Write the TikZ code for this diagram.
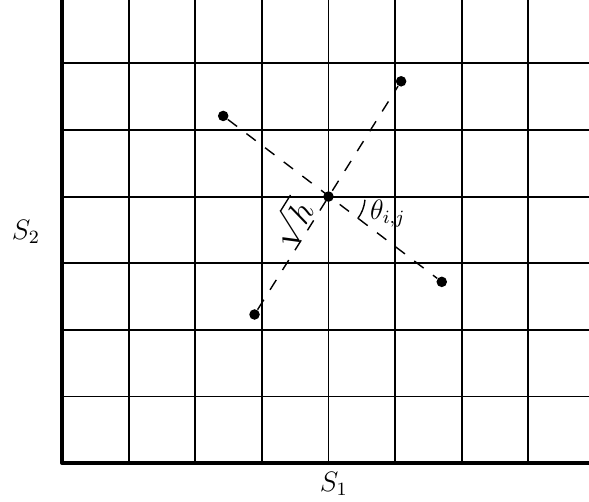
\documentclass[tikz,border=0pt]{standalone}
\usepackage{amsmath,amssymb}
\usepackage{xcolor}
\usepackage{tikz}
\usetikzlibrary{calc}

\begin{document}
\begin{tikzpicture}[line join=round,
  dot/.style={circle,fill=black,inner sep=0pt,minimum size=4.5pt},
  link/.style={semithick,dash pattern=on 5pt off 5pt},
  lbl/.style={font=\large,inner sep=1pt}]
  \useasboundingbox (-0.93,-0.57) rectangle (7.91,6.95);
  \draw[thick] (0,0) grid (8,7);
  \draw[line width=1.6pt] (0,7) -- (0,0) -- (8,0);
  \node[dot] (M) at (4.00,4.00) {};
  \node[dot] (P1) at (2.42,5.21) {};
  \node[dot] (P2) at (5.70,2.72) {};
  \node[dot] (Q1) at (2.89,2.23) {};
  \node[dot] (Q2) at (5.09,5.73) {};
  \draw[link] (P1) -- (P2);
  \draw[link] (Q1) -- (Q2);
  \draw[semithick] ($(M)+(-5:0.55)$) arc (-5:-37:0.55);
  \node[lbl] (S1) at (4.08,-0.31) {$S_1$};
  \node[lbl] (S2) at (-0.54,3.47) {$S_2$};
  \node[lbl,font=\Large,rotate=58] (H) at (3.44,3.60) {$\sqrt{h}$};
  \node[lbl] (T) at (4.89,3.74) {$\theta_{i,j}$};
\end{tikzpicture}
\end{document}
